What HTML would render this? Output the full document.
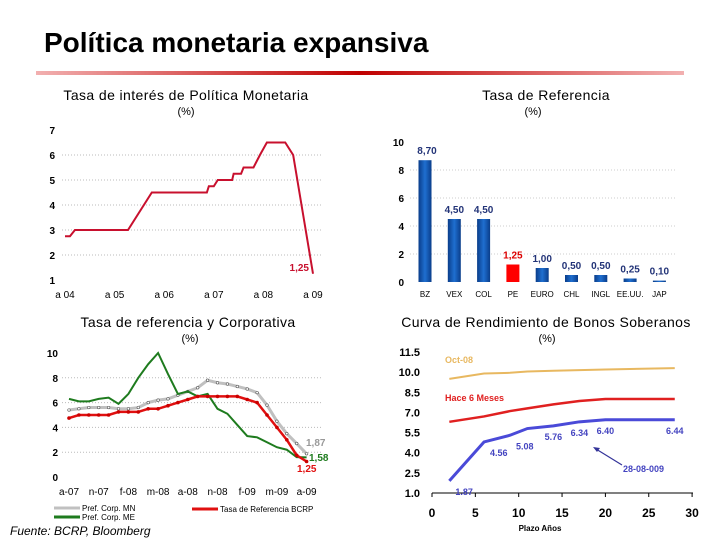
<!DOCTYPE html>
<html><head><meta charset="utf-8"><style>
body{margin:0;width:720px;height:540px;background:#fff;overflow:hidden;font-family:"Liberation Sans",sans-serif}
svg text{font-family:"Liberation Sans",sans-serif}
.ct{font-size:14px;letter-spacing:0.4px}
</style></head><body>
<svg id="s" width="720" height="540" xmlns="http://www.w3.org/2000/svg">
<defs><linearGradient id="rg" x1="0" x2="1"><stop offset="0" stop-color="#f2b0b0"/><stop offset="0.5" stop-color="#c00000"/><stop offset="1" stop-color="#f2b0b0"/></linearGradient>
<linearGradient id="bg" x1="0" x2="1"><stop offset="0" stop-color="#0a3d8a"/><stop offset="0.5" stop-color="#1f6fd0"/><stop offset="1" stop-color="#0a3d8a"/></linearGradient></defs>
<text x="44" y="52" font-size="28" font-weight="bold">Política monetaria expansiva</text>
<rect x="36" y="71" width="648" height="4" fill="url(#rg)"/>
<text x="186" y="100" class="ct" text-anchor="middle">Tasa de interés de Política Monetaria</text>
<text x="186" y="115" font-size="11" text-anchor="middle">(%)</text>
<text x="546" y="100" class="ct" text-anchor="middle">Tasa de Referencia</text>
<text x="533" y="115" font-size="11" text-anchor="middle">(%)</text>
<text x="188" y="327" class="ct" text-anchor="middle">Tasa de referencia y Corporativa</text>
<text x="190" y="342" font-size="11" text-anchor="middle">(%)</text>
<text x="546" y="327" class="ct" text-anchor="middle">Curva de Rendimiento de Bonos Soberanos</text>
<text x="547" y="342" font-size="11" text-anchor="middle">(%)</text>
<text x="10" y="535" font-size="12" font-style="italic">Fuente: BCRP, Bloomberg</text>
<g id="c1"></g><g id="c2"></g><g id="c3"></g><g id="c4"></g>
</svg>
<script>
// Chart 1
const c1Times=[0,0.1,0.2,1.27,1.75,2.86,2.9,3.0,3.08,3.37,3.4,3.55,3.6,3.8,3.93,4.07,4.44,4.6,5.0];
const c1Vals=[2.75,2.75,3.0,3.0,4.5,4.5,4.75,4.75,5.0,5.0,5.25,5.25,5.5,5.5,6.0,6.5,6.5,6.0,1.25];
const c1Ticks=["a 04","a 05","a 06","a 07","a 08","a 09"];
// Chart 2
const c2Cats=["BZ","VEX","COL","PE","EURO","CHL","INGL","EE.UU.","JAP"];
const c2Vals=[8.70,4.50,4.50,1.25,1.00,0.50,0.50,0.25,0.10];
const c2Labels=["8,70","4,50","4,50","1,25","1,00","0,50","0,50","0,25","0,10"];
// Chart 3
const c3Ticks=["a-07","n-07","f-08","m-08","a-08","n-08","f-09","m-09","a-09"];
const c3Ref=[4.75,5,5,5,5,5.25,5.25,5.25,5.5,5.5,5.75,6,6.25,6.5,6.5,6.5,6.5,6.5,6.25,6,5,4,3,1.75,1.25];
const c3MN=[5.4,5.5,5.6,5.6,5.6,5.5,5.5,5.6,6,6.2,6.3,6.6,6.9,7.2,7.8,7.6,7.5,7.3,7.1,6.8,5.8,4.5,3.5,2.7,1.87];
const c3ME=[6.3,6.1,6.1,6.3,6.4,5.9,6.7,8,9.1,10,8.3,6.7,6.9,6.5,6.7,5.5,5.1,4.2,3.3,3.2,2.8,2.4,2.2,1.6,1.58];
// Chart 4
const c4Yrs=[2,6,9,11,14,17,20,28];
const c4Now=[1.9,4.8,5.3,5.8,6.0,6.3,6.45,6.45];
const c4Six=[6.3,6.7,7.1,7.3,7.6,7.85,8.0,8.0];
const c4Oct=[9.5,9.9,9.95,10.05,10.1,10.15,10.2,10.3];
const c4Labels=["1.87","4.56","5.08","","5.76","6.34","6.40","6.44"];
const c4YTicks=[1.0,2.5,4.0,5.5,7.0,8.5,10.0,11.5];
const c4XTicks=[0,5,10,15,20,25,30];

const NS="http://www.w3.org/2000/svg";
function mk(p,tag,at,txt){const e=document.createElementNS(NS,tag);for(const k in at)e.setAttribute(k,at[k]);if(txt!==undefined)e.textContent=txt;p.appendChild(e);return e;}
function pts(xs,ys,fx,fy){return xs.map((x,i)=>fx(x)+","+fy(ys[i])).join(" ");}

// ---- chart 1
{const g=document.getElementById('c1');
const X=t=>65+t*49.6, Y=v=>280-(v-1)*25;
for(let v=1;v<=7;v++){
 if(v>1&&v<7){const l=mk(g,'line',{x1:62,x2:322,y1:Y(v),y2:Y(v),stroke:'#bbb','stroke-dasharray':'1,2'});
 }
 const t=mk(g,'text',{x:55,y:Y(v)+4,'font-size':10,'font-weight':'bold','text-anchor':'end'},v);
 }
c1Ticks.forEach((s,i)=>{const t=mk(g,'text',{x:X(i),y:298,'font-size':10,'text-anchor':'middle'},s);
 });
const p=mk(g,'polyline',{points:pts(c1Times,c1Vals,X,Y),fill:'none',stroke:'#c8102e','stroke-width':2});

const lb=mk(g,'text',{x:X(5)-4,y:Y(1.25)-3,'font-size':10,'font-weight':'bold',fill:'#c8102e','text-anchor':'end'},'1,25');
}

// ---- chart 2
{const g=document.getElementById('c2');
const Y=v=>282-v*14, X=i=>425+i*29.3;
for(let v=0;v<=10;v+=2){
 if(v>0&&v<10){const l=mk(g,'line',{x1:410,x2:675,y1:Y(v),y2:Y(v),stroke:'#ccc','stroke-dasharray':'1,2'});
 }
 const t=mk(g,'text',{x:404,y:Y(v)+4,'font-size':10,'font-weight':'bold','text-anchor':'end'},v);
 }
c2Cats.forEach((c,i)=>{const red=c==='PE';
 const r=mk(g,'rect',{x:X(i)-6.5,y:Y(c2Vals[i]),width:13,height:c2Vals[i]*14,fill:red?'#ff0000':'url(#bg)'});
 
 const v=mk(g,'text',{x:X(i)+(i===0?2:0),y:Y(c2Vals[i])-6,'font-size':10,'font-weight':'bold',fill:red?'#d00':'#223377','text-anchor':'middle'},c2Labels[i]);
 
 const t=mk(g,'text',{x:X(i),y:297,'font-size':8,'text-anchor':'middle'},c);
 });}

// ---- chart 3
{const g=document.getElementById('c3');
const Y=v=>477-v*12.4, X=i=>69+i*9.9;
for(let v=0;v<=10;v+=2){
 if(v>0&&v<10){const l=mk(g,'line',{x1:62,x2:322,y1:Y(v),y2:Y(v),stroke:'#bbb','stroke-dasharray':'1,2'});
 }
 const t=mk(g,'text',{x:58,y:Y(v)+4,'font-size':10,'font-weight':'bold','text-anchor':'end'},v);
 }
c3Ticks.forEach((s,i)=>{const t=mk(g,'text',{x:X(i*3),y:495,'font-size':10,'text-anchor':'middle'},s);
 });
const idx=c3Ref.map((_,i)=>i);
const a=mk(g,'polyline',{points:pts(idx,c3MN,X,Y),fill:'none',stroke:'#c0c0c0','stroke-width':3});

c3MN.forEach((v,i)=>{const c=mk(g,'circle',{cx:X(i),cy:Y(v),r:1.3,fill:'#fff',stroke:'#555','stroke-width':0.6});
 });
const b=mk(g,'polyline',{points:pts(idx,c3ME,X,Y),fill:'none',stroke:'#1e7b1e','stroke-width':2});

const r=mk(g,'polyline',{points:pts(idx,c3Ref,X,Y),fill:'none',stroke:'#e01010','stroke-width':2.5});

c3Ref.forEach((v,i)=>{const c=mk(g,'circle',{cx:X(i),cy:Y(v),r:1.8,fill:'#c00'});
 });
const l1=mk(g,'text',{x:306,y:446,'font-size':10,'font-weight':'bold',fill:'#999'},'1,87');

const l2=mk(g,'text',{x:309,y:461,'font-size':10,'font-weight':'bold',fill:'#1e7b1e'},'1,58');

const l3=mk(g,'text',{x:297,y:472,'font-size':10,'font-weight':'bold',fill:'#e01010'},'1,25');

const leg=[[54,508,'#c0c0c0','Pref. Corp. MN'],[54,517,'#1e7b1e','Pref. Corp. ME'],[192,509,'#e01010','Tasa de Referencia BCRP']];
leg.forEach(([x,y,c,s])=>{const ln=mk(g,'line',{x1:x,x2:x+26,y1:y,y2:y,stroke:c,'stroke-width':3});
 
 const t=mk(g,'text',{x:x+28,y:y+3,'font-size':8},s);
 });}

// ---- chart 4
{const g=document.getElementById('c4');
const Y=v=>493-(v-1)*13.43, X=t=>432+t*8.67;
c4YTicks.forEach(v=>{const t=mk(g,'text',{x:420,y:Y(v)+4,'font-size':11,'font-weight':'bold','text-anchor':'end'},v.toFixed(1));
 });
const ax=mk(g,'line',{x1:432,x2:693,y1:493,y2:493,stroke:'#000','stroke-width':1});

c4XTicks.forEach(v=>{mk(g,'line',{x1:X(v),x2:X(v),y1:493,y2:497,stroke:'#000'});
 const t=mk(g,'text',{x:X(v),y:517,'font-size':12,'font-weight':'bold','text-anchor':'middle'},v);
 });
const xt=mk(g,'text',{x:540,y:531,'font-size':8,'font-weight':'bold','text-anchor':'middle'},'Plazo Años');

const o=mk(g,'polyline',{points:pts(c4Yrs,c4Oct,X,Y),fill:'none',stroke:'#e8b860','stroke-width':2});

const s6=mk(g,'polyline',{points:pts(c4Yrs,c4Six,X,Y),fill:'none',stroke:'#e02020','stroke-width':2.5});

const n=mk(g,'polyline',{points:pts(c4Yrs,c4Now,X,Y),fill:'none',stroke:'#4a4ad8','stroke-width':3});

c4Labels.forEach((s,i)=>{if(!s)return;const off=i<3?[6,14]:[0,14];
 const t=mk(g,'text',{x:X(c4Yrs[i])+off[0],y:Y(c4Now[i])+off[1],'font-size':9,'font-weight':'bold',fill:'#4444c0','text-anchor':i<3?'start':'middle'},s);
 });
const t1=mk(g,'text',{x:445,y:363,'font-size':9,'font-weight':'bold',fill:'#e8b860'},'Oct-08');

const t2=mk(g,'text',{x:445,y:401,'font-size':9,'font-weight':'bold',fill:'#e02020'},'Hace 6 Meses');

const ar=mk(g,'line',{x1:622,y1:465,x2:596,y2:449,stroke:'#333399','stroke-width':1.2});

mk(g,'polygon',{points:'593,447 600,448 597,452',fill:'#333399'});
const t3=mk(g,'text',{x:623,y:472,'font-size':9,'font-weight':'bold',fill:'#4444c0'},'28-08-009');
}
</script>
</body></html>
